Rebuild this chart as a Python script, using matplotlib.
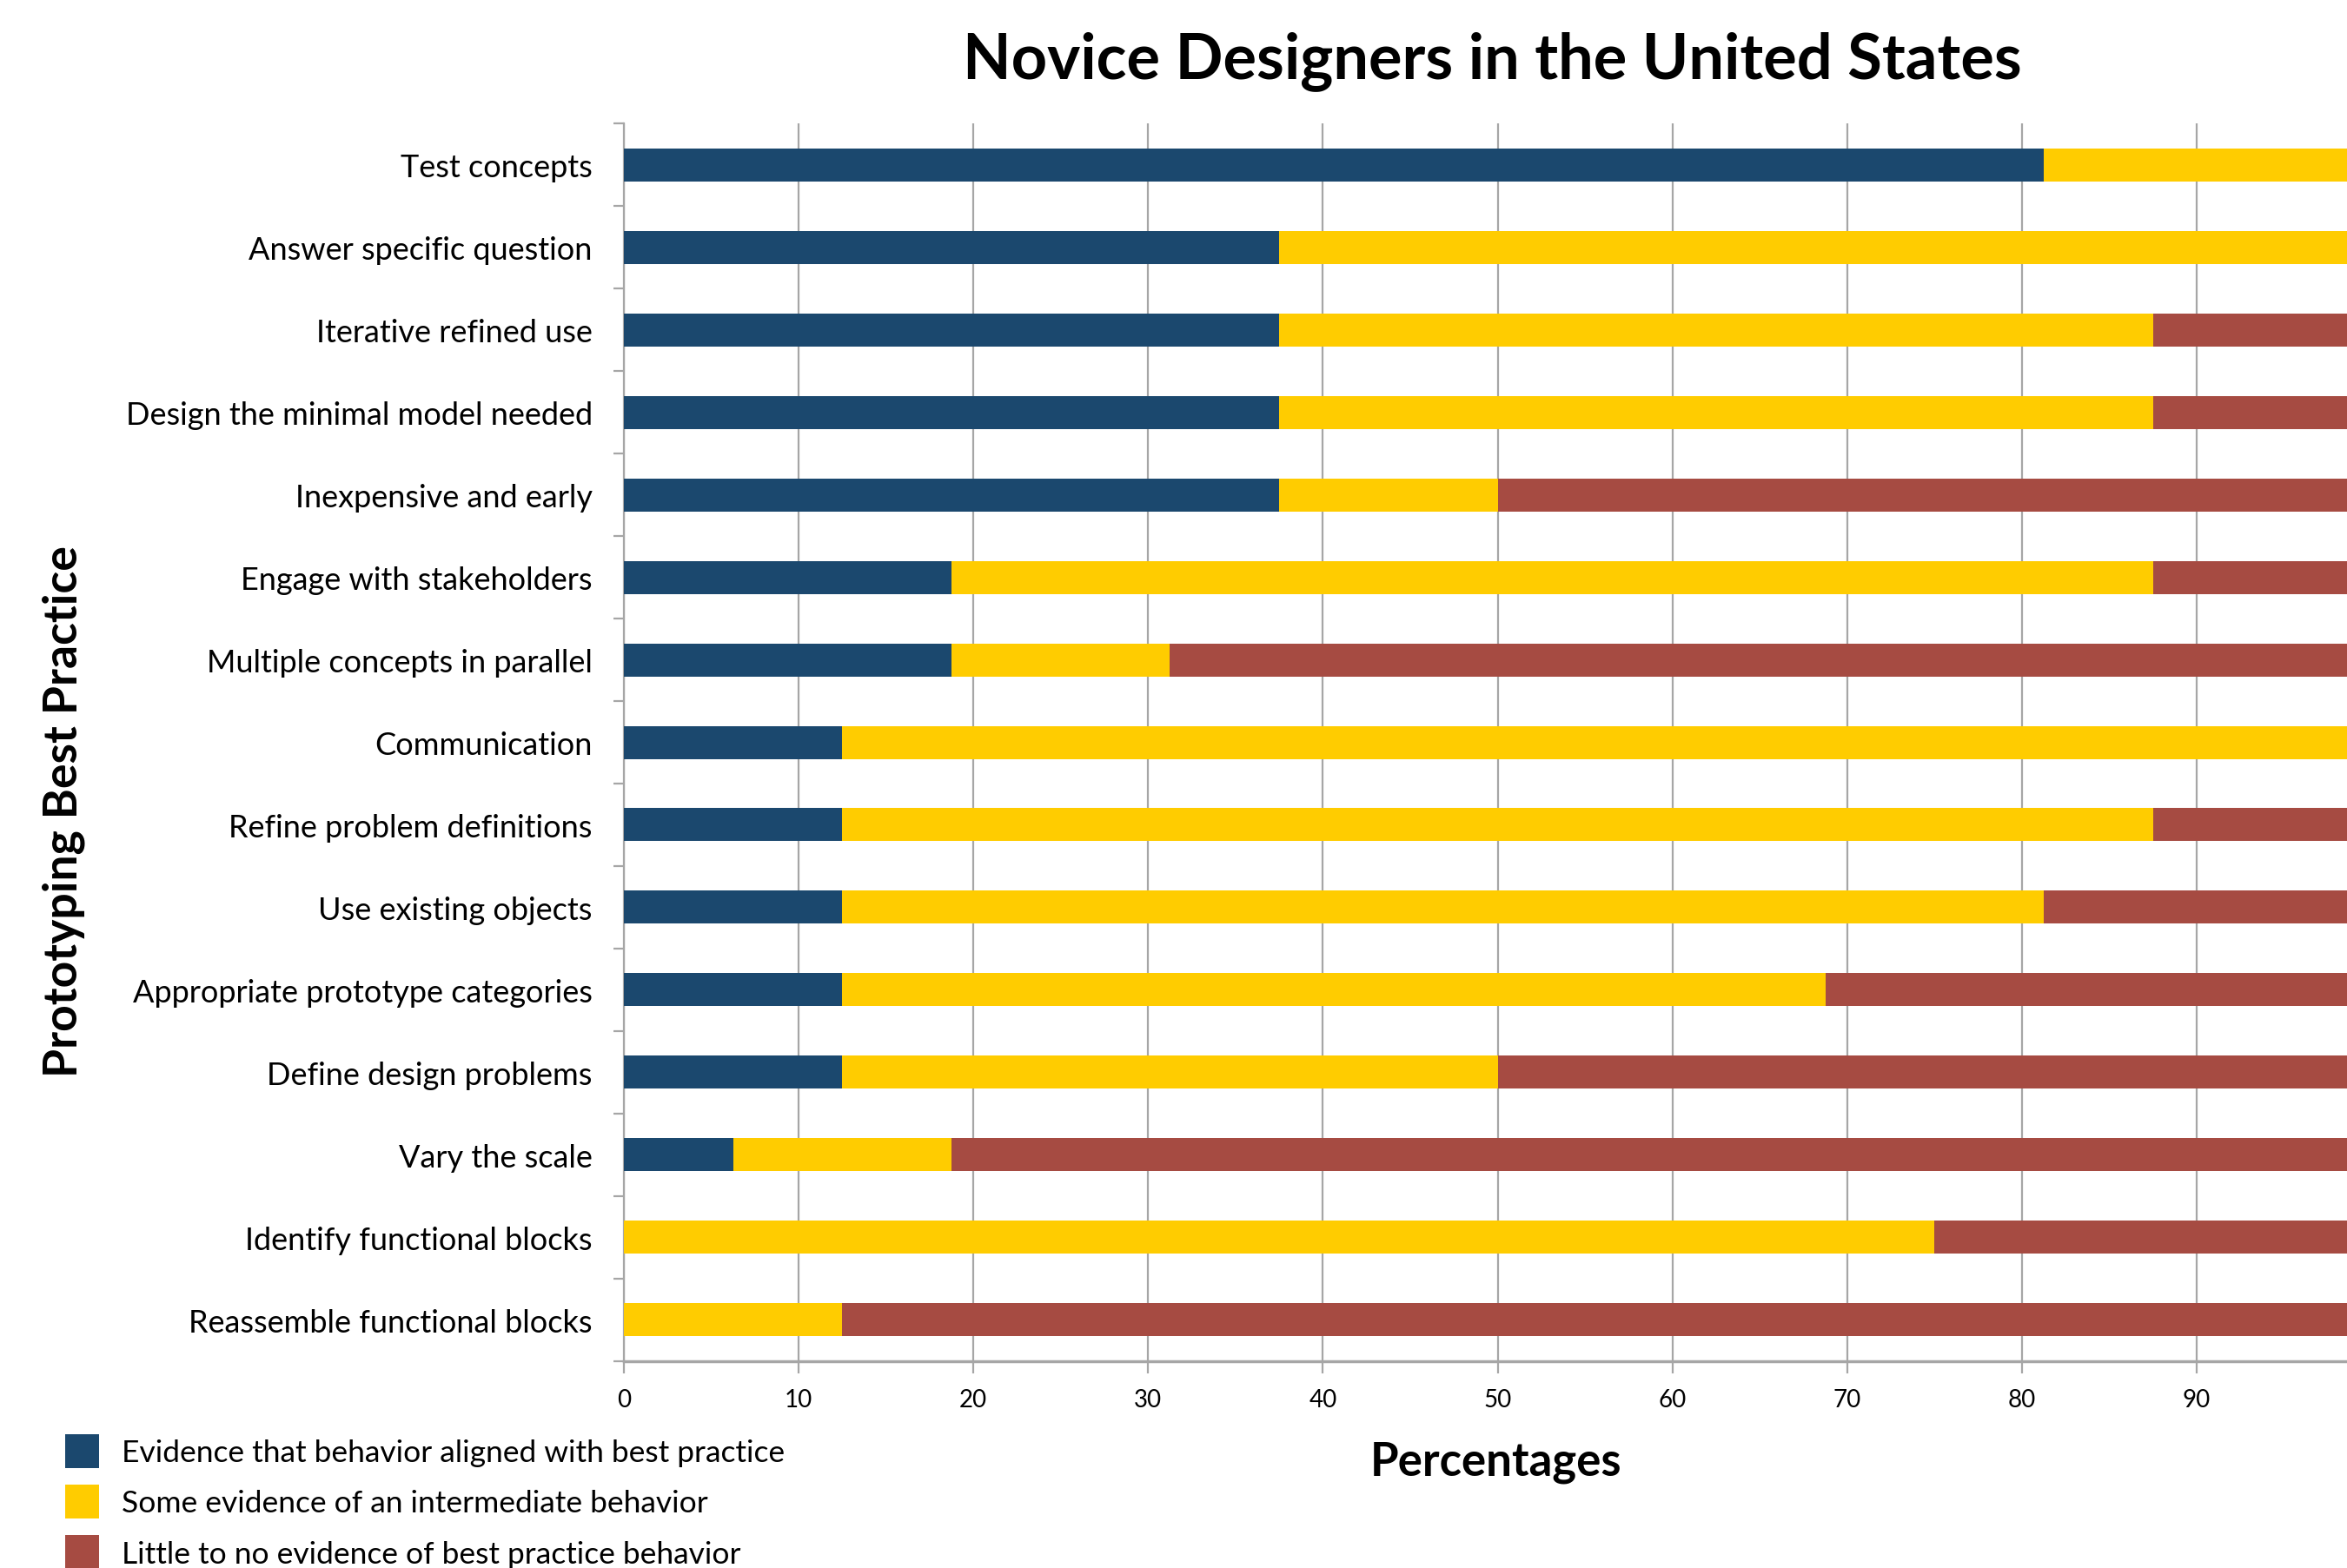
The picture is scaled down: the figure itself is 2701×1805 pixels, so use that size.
import numpy as np
import matplotlib
matplotlib.use('Agg')
import matplotlib.pyplot as plt

plt.rcParams['font.family'] = ['Lato', 'DejaVu Sans']

# data, top row first
practices = ['Test concepts', 'Answer specific question', 'Iterative refined use',
             'Design the minimal model needed', 'Inexpensive and early',
             'Engage with stakeholders', 'Multiple concepts in parallel',
             'Communication', 'Refine problem definitions', 'Use existing objects',
             'Appropriate prototype categories', 'Define design problems',
             'Vary the scale', 'Identify functional blocks', 'Reassemble functional blocks']
aligned = [81.25, 37.5, 37.5, 37.5, 37.5, 18.75, 18.75, 12.5, 12.5, 12.5, 12.5, 12.5, 6.25, 0, 0]
intermediate = [18.75, 62.5, 50, 50, 12.5, 68.75, 12.5, 87.5, 75, 68.75, 56.25, 37.5, 12.5, 75, 12.5]
little = [0, 0, 12.5, 12.5, 50, 12.5, 68.75, 0, 12.5, 18.75, 31.25, 50, 81.25, 25, 87.5]
legend_labels = ['Evidence that behavior aligned with best practice',
                 'Some evidence of an intermediate behavior',
                 'Little to no evidence of best practice behavior']
colors = ['#1B486E', '#FFCC00', '#A64B42']

aligned = np.array(aligned)
intermediate = np.array(intermediate)
little = np.array(little)
y = np.arange(len(practices))

fig = plt.figure(figsize=(27.01, 18.06), dpi=100)
ax = fig.add_axes([0.2658, 0.1318, 0.7446, 0.7890])

h = 0.4
b1 = ax.barh(y, aligned, height=h, color=colors[0], zorder=3)
b2 = ax.barh(y, intermediate, left=aligned, height=h, color=colors[1], zorder=3)
b3 = ax.barh(y, little, left=aligned + intermediate, height=h, color=colors[2], zorder=3)

ax.set_xlim(0, 100)
ax.set_ylim(len(practices) - 0.5, -0.5)
ax.set_xticks(np.arange(0, 100, 10))
ax.set_yticks(y)
ax.set_yticklabels(practices)
ax.set_yticks(np.arange(-0.5, len(practices), 1), minor=True)

ax.grid(axis='x', color='#A6A6A6', linewidth=1.6, zorder=0)
for s in ['top', 'right']:
    ax.spines[s].set_visible(False)
ax.spines['left'].set_color('#A6A6A6')
ax.spines['left'].set_linewidth(1.6)
ax.spines['bottom'].set_color('#A6A6A6')
ax.spines['bottom'].set_linewidth(2.5)

ax.tick_params(axis='y', which='major', length=0, pad=26, labelsize=26)
ax.tick_params(axis='y', which='minor', length=9, width=1.6, color='#A6A6A6')
ax.tick_params(axis='x', which='major', length=10, width=1.6, color='#A6A6A6', pad=12, labelsize=20)

fig.text(0.636, 0.961, 'Novice Designers in the United States', fontsize=52,
         fontweight='bold', ha='center', va='center')
fig.text(0.027, 0.483, 'Prototyping Best Practice', fontsize=38.5, fontweight='bold',
         rotation=90, ha='center', va='center')
fig.text(0.6375, 0.068, 'Percentages', fontsize=38, fontweight='bold',
         ha='center', va='center')

fig.legend([b1, b2, b3], legend_labels, loc='upper left', bbox_to_anchor=(0.0225, 0.093),
           frameon=False, fontsize=25.5, handlelength=1.1, handleheight=1.3,
           labelspacing=0.55, handletextpad=0.75, borderaxespad=0)

fig.savefig('out.png', dpi=100)
